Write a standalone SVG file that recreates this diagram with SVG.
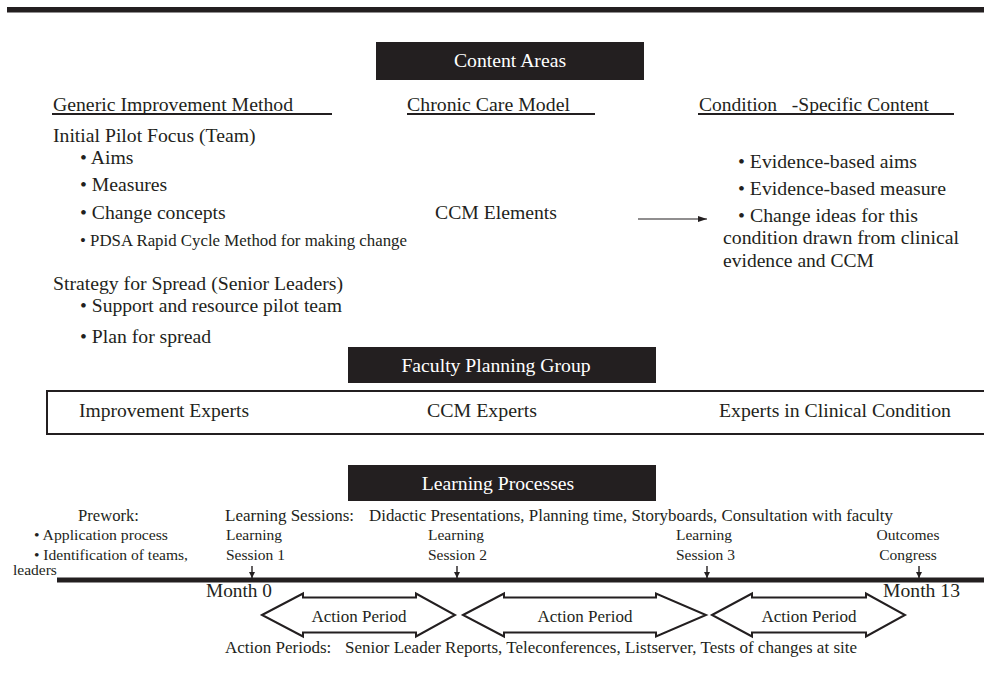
<svg xmlns="http://www.w3.org/2000/svg" width="984" height="686" viewBox="0 0 984 686">
<defs>
<style>
text{font-family:"Liberation Serif","Times New Roman",serif;fill:#231f20}
.m{font-size:19.7px}
.s{font-size:16.8px}
.t{font-size:17px}
.l{font-size:15.5px}
.w{fill:#ffffff;font-size:19.7px}
.bar{fill:#231f20}
.ap{fill:#ffffff;stroke:#231f20;stroke-width:2;stroke-linejoin:miter}
.conn{stroke:#231f20;fill:none}
</style>
<marker id="ah" markerUnits="userSpaceOnUse" markerWidth="9" markerHeight="6" refX="9" refY="3" orient="auto">
<path d="M0,0 L9,3 L0,6 z" fill="#231f20"/>
</marker>
<marker id="dh" markerUnits="userSpaceOnUse" markerWidth="6" markerHeight="6" refX="6" refY="3" orient="auto">
<path d="M0,0 L6,3 L0,6 z" fill="#231f20"/>
</marker>
</defs>
<rect width="984" height="686" fill="#ffffff"/>
<rect class="bar" x="7" y="7" width="980" height="5.5"/>

<g id="content-areas">
<rect class="bar" x="376" y="42" width="268" height="38"/>
<text class="w" x="510" y="67" text-anchor="middle">Content Areas</text>
</g>

<g id="generic-improvement-method">
<text class="m" x="53" y="111" textLength="240" lengthAdjust="spacingAndGlyphs">Generic Improvement Method</text>
<rect class="bar" x="52" y="113" width="280" height="2"/>
<text class="m" x="53" y="142">Initial Pilot Focus (Team)</text>
<text class="m" x="80" y="164">• Aims</text>
<text class="m" x="80" y="191">• Measures</text>
<text class="m" x="80" y="219">• Change concepts</text>
<text class="s" x="80" y="246" textLength="327" lengthAdjust="spacingAndGlyphs">• PDSA Rapid Cycle Method for making change</text>
<text class="m" x="53" y="290" textLength="290" lengthAdjust="spacingAndGlyphs">Strategy for Spread (Senior Leaders)</text>
<text class="m" x="80" y="312" textLength="262" lengthAdjust="spacingAndGlyphs">• Support and resource pilot team</text>
<text class="m" x="80" y="343">• Plan for spread</text>
</g>

<g id="chronic-care-model">
<text class="m" x="407" y="111" textLength="163" lengthAdjust="spacingAndGlyphs">Chronic Care Model</text>
<rect class="bar" x="407" y="113" width="188" height="2"/>
<text class="m" x="435" y="219" textLength="122" lengthAdjust="spacingAndGlyphs">CCM Elements</text>
</g>

<g id="condition-specific-content">
<text class="m" x="699" y="111" style="white-space:pre" textLength="230" lengthAdjust="spacingAndGlyphs">Condition   -Specific Content</text>
<rect class="bar" x="698" y="113" width="256" height="2"/>
<text class="m" x="738" y="168" textLength="179" lengthAdjust="spacingAndGlyphs">• Evidence-based aims</text>
<text class="m" x="738" y="195" textLength="208" lengthAdjust="spacingAndGlyphs">• Evidence-based measure</text>
<text class="m" x="738" y="222" textLength="180" lengthAdjust="spacingAndGlyphs">• Change ideas for this</text>
<text class="m" x="723" y="244" textLength="236" lengthAdjust="spacingAndGlyphs">condition drawn from clinical</text>
<text class="m" x="723" y="267" textLength="151" lengthAdjust="spacingAndGlyphs">evidence and CCM</text>
</g>

<g id="faculty-planning-group">
<rect class="bar" x="348" y="347" width="308" height="36"/>
<text class="w" x="496" y="372" text-anchor="middle">Faculty Planning Group</text>
</g>

<g id="faculty-experts">
<rect x="47" y="391" width="950" height="43" fill="none" stroke="#231f20" stroke-width="2"/>
<text class="m" x="79" y="417" textLength="170" lengthAdjust="spacingAndGlyphs">Improvement Experts</text>
<text class="m" x="427" y="417" textLength="110" lengthAdjust="spacingAndGlyphs">CCM Experts</text>
<text class="m" x="719" y="417" textLength="232" lengthAdjust="spacingAndGlyphs">Experts in Clinical Condition</text>
</g>

<g id="learning-processes">
<rect class="bar" x="348" y="465" width="308" height="36"/>
<text class="w" x="498" y="490" text-anchor="middle">Learning Processes</text>
</g>

<g id="prework">
<text class="t" x="78" y="521" textLength="61" lengthAdjust="spacingAndGlyphs">Prework:</text>
<text class="l" x="34" y="540" textLength="134" lengthAdjust="spacingAndGlyphs">• Application process</text>
<text class="l" x="34" y="560" textLength="154" lengthAdjust="spacingAndGlyphs">• Identification of teams,</text>
<text class="l" x="13" y="575">leaders</text>
</g>

<g id="learning-sessions">
<text class="t" x="225" y="521" textLength="129" lengthAdjust="spacingAndGlyphs">Learning Sessions:</text>
<text class="t" x="369" y="521" textLength="524" lengthAdjust="spacingAndGlyphs">Didactic Presentations, Planning time, Storyboards, Consultation with faculty</text>
</g>

<g id="timeline">
<rect class="bar" x="57" y="577.5" width="930" height="5"/>
<text class="m" x="206" y="597" textLength="66" lengthAdjust="spacingAndGlyphs">Month 0</text>
<text class="m" x="883" y="597" textLength="77" lengthAdjust="spacingAndGlyphs">Month 13</text>
</g>

<g id="learning-session-1">
<text class="l" x="226" y="540">Learning</text>
<text class="l" x="226" y="560">Session 1</text>
</g>
<g id="learning-session-2">
<text class="l" x="428" y="540">Learning</text>
<text class="l" x="428" y="560">Session 2</text>
</g>
<g id="learning-session-3">
<text class="l" x="676" y="540">Learning</text>
<text class="l" x="676" y="560">Session 3</text>
</g>
<g id="outcomes-congress">
<text class="l" x="908" y="540" text-anchor="middle">Outcomes</text>
<text class="l" x="908" y="560" text-anchor="middle">Congress</text>
</g>

<g id="action-period-1">
<polygon class="ap" points="262,615 303,593.5 303,597.5 416,597.5 416,593.5 455,615 416,636.5 416,632.5 303,632.5 303,636.5"/>
<text class="t" x="359" y="622" text-anchor="middle">Action Period</text>
</g>
<g id="action-period-2">
<polygon class="ap" points="463,615 504,593.5 504,597.5 656,597.5 656,593.5 706,615 656,636.5 656,632.5 504,632.5 504,636.5"/>
<text class="t" x="585" y="622" text-anchor="middle">Action Period</text>
</g>
<g id="action-period-3">
<polygon class="ap" points="712,615 752,593.5 752,597.5 866,597.5 866,593.5 905,615 866,636.5 866,632.5 752,632.5 752,636.5"/>
<text class="t" x="809" y="622" text-anchor="middle">Action Period</text>
</g>

<g id="action-periods-note">
<text class="t" x="225" y="653">Action Periods:</text>
<text class="t" x="345" y="653" textLength="512" lengthAdjust="spacingAndGlyphs">Senior Leader Reports, Teleconferences, Listserver, Tests of changes at site</text>
</g>

<g id="connectors">
<line class="conn" x1="638" y1="219" x2="707" y2="219" stroke-width="1.2" marker-end="url(#ah)"/>
<line class="conn" x1="252" y1="566" x2="252" y2="578" stroke-width="1.4" marker-end="url(#dh)"/>
<line class="conn" x1="457" y1="566" x2="457" y2="578" stroke-width="1.4" marker-end="url(#dh)"/>
<line class="conn" x1="707" y1="566" x2="707" y2="578" stroke-width="1.4" marker-end="url(#dh)"/>
<line class="conn" x1="919" y1="566" x2="919" y2="578" stroke-width="1.4" marker-end="url(#dh)"/>
</g>
</svg>
